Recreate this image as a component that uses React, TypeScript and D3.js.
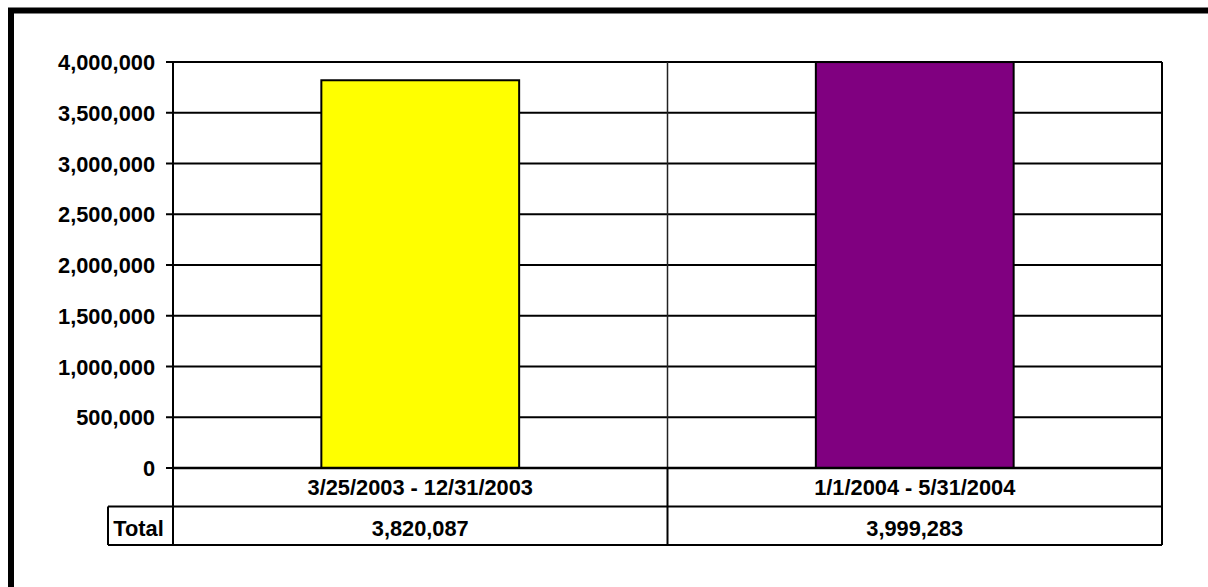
import React from "react";
import * as d3 from "d3";

const categories: string[] = ["3/25/2003 - 12/31/2003", "1/1/2004 - 5/31/2004"];
const values: number[] = [3820087, 3999283];
const barColors: string[] = ["#FFFF00", "#800080"];
const yTicks: number[] = [0, 500000, 1000000, 1500000, 2000000, 2500000, 3000000, 3500000, 4000000];
const rowLabel = "Total";

const W = 1208;
const H = 587;
const plot = { left: 173, right: 1162, top: 62, bottom: 468 };
const rowH = 38.5;
const totalCellLeft = 108;
const font = "'Liberation Sans', Arial, Helvetica, sans-serif";
const fs = 21.8;

export default function App() {
  const y = d3.scaleLinear().domain([0, 4000000]).range([plot.bottom, plot.top]);
  const x = d3.scaleBand<string>().domain(categories).range([plot.left, plot.right]).padding(0);
  const bw = x.bandwidth();
  const barW = bw * 0.4;
  const fmt = d3.format(",");
  const row1Bottom = plot.bottom + rowH;
  const row2Bottom = row1Bottom + rowH;

  return (
    <svg
      width={W}
      height={H}
      viewBox={`0 0 ${W} ${H}`}
      style={{ position: "absolute", left: 0, top: 0, background: "#fff" }}
      fontFamily={font}
      fontWeight="bold"
      fontSize={fs}
    >
      <rect x={0} y={0} width={W} height={H} fill="#fff" />
      {/* outer frame */}
      <rect x={11} y={10.5} width={W + 20} height={H + 20} fill="none" stroke="#000" strokeWidth={6} />

      {/* gridlines */}
      {yTicks.map((t) => (
        <line key={"g" + t} x1={plot.left} x2={plot.right} y1={y(t)} y2={y(t)} stroke="#000" strokeWidth={2} />
      ))}
      {/* tick marks */}
      {yTicks.map((t) => (
        <line key={"tk" + t} x1={166} x2={plot.left} y1={y(t)} y2={y(t)} stroke="#000" strokeWidth={2} />
      ))}
      {/* y labels */}
      {yTicks.map((t) => (
        <text key={"l" + t} x={155} y={y(t) + 0.5} textAnchor="end" dominantBaseline="central" fill="#000">
          {fmt(t)}
        </text>
      ))}

      {/* category divider inside plot */}
      {categories.slice(1).map((c) => (
        <line key={"d" + c} x1={x(c)!} x2={x(c)!} y1={plot.top} y2={plot.bottom} stroke="#222" strokeWidth={1.5} />
      ))}

      {/* bars */}
      {categories.map((c, i) => (
        <rect
          key={"b" + c}
          x={x(c)! + (bw - barW) / 2}
          y={y(values[i])}
          width={barW}
          height={y(0) - y(values[i])}
          fill={barColors[i]}
          stroke="#000"
          strokeWidth={2}
        />
      ))}

      {/* plot frame */}
      <line x1={plot.right} x2={plot.right} y1={plot.top} y2={row2Bottom} stroke="#000" strokeWidth={2} />
      <line x1={plot.left} x2={plot.left} y1={plot.top} y2={row2Bottom} stroke="#000" strokeWidth={2} />
      <line x1={plot.left} x2={plot.right} y1={plot.bottom} y2={plot.bottom} stroke="#000" strokeWidth={2.5} />

      {/* data table */}
      <line x1={totalCellLeft} x2={plot.right} y1={row1Bottom} y2={row1Bottom} stroke="#000" strokeWidth={2} />
      <line x1={totalCellLeft} x2={plot.right} y1={row2Bottom} y2={row2Bottom} stroke="#000" strokeWidth={2} />
      <line x1={totalCellLeft} x2={totalCellLeft} y1={row1Bottom} y2={row2Bottom} stroke="#000" strokeWidth={2} />
      {categories.slice(1).map((c) => (
        <line key={"td" + c} x1={x(c)!} x2={x(c)!} y1={plot.bottom} y2={row2Bottom} stroke="#000" strokeWidth={2} />
      ))}
      <text
        x={(totalCellLeft + plot.left) / 2 - 2}
        y={(row1Bottom + row2Bottom) / 2 + 3}
        textAnchor="middle"
        dominantBaseline="central"
        fill="#000"
      >
        {rowLabel}
      </text>
      {categories.map((c, i) => (
        <g key={"t" + c}>
          <text
            x={x(c)! + bw / 2}
            y={(plot.bottom + row1Bottom) / 2 + 0.5}
            textAnchor="middle"
            dominantBaseline="central"
            fill="#000"
          >
            {c}
          </text>
          <text
            x={x(c)! + bw / 2}
            y={(row1Bottom + row2Bottom) / 2 + 2.5}
            textAnchor="middle"
            dominantBaseline="central"
            fill="#000"
          >
            {fmt(values[i])}
          </text>
        </g>
      ))}
    </svg>
  );
}
